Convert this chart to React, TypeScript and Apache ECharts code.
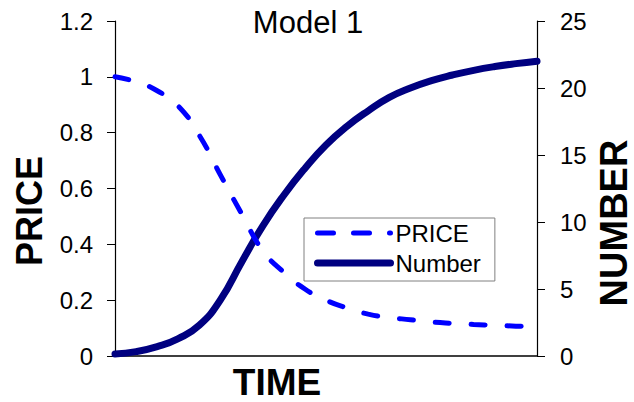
import React, { useEffect, useRef } from "react";
import * as echarts from "echarts";

const timePoints = [0, 5, 10, 15, 20, 25, 30, 35, 40, 45, 50, 55, 60, 65, 70, 75, 80, 85, 90, 95, 100];
const priceValues = [1.0, 0.982, 0.95, 0.895, 0.79, 0.648, 0.51, 0.378, 0.3, 0.24, 0.2, 0.172, 0.15, 0.138, 0.13, 0.122, 0.117, 0.113, 0.11, 0.107, 0.105];
const numberValues = [0.15, 0.33, 0.7, 1.3, 2.3, 4.2, 7.0, 9.7, 12.0, 14.0, 15.75, 17.15, 18.3, 19.3, 20.0, 20.55, 20.97, 21.32, 21.6, 21.82, 22.0];

const titleText = "Model 1";
const xName = "TIME";
const leftName = "PRICE";
const rightName = "NUMBER";

const FONT = "'Liberation Sans', Arial, Helvetica, sans-serif";

export default function App() {
  const ref = useRef<HTMLDivElement>(null);
  useEffect(() => {
    if (!ref.current) return;
    const chart = echarts.init(ref.current, undefined, { renderer: "svg" });
    const priceData = timePoints.map((t, i) => [t, priceValues[i]]);
    const numberData = timePoints.map((t, i) => [t, numberValues[i]]);
    chart.setOption({
      animation: false,
      backgroundColor: "#ffffff",
      textStyle: { fontFamily: FONT },
      grid: { left: 115, right: 97, top: 21, bottom: 46, containLabel: false },
      legend: {
        orient: "vertical",
        left: 304,
        top: 218,
        padding: [2, 14, 5, 10],
        itemWidth: 73,
        itemHeight: 14,
        itemGap: 4,
        borderColor: "#808080",
        borderWidth: 1,
        backgroundColor: "#ffffff",
        textStyle: { fontFamily: FONT, fontSize: 24, color: "#000", lineHeight: 26 },
        data: [
          { name: "PRICE", itemStyle: { opacity: 0 }, lineStyle: { width: 5, type: [16, 20], cap: "round", color: "#0000ff" } },
          { name: "Number", itemStyle: { opacity: 0 }, lineStyle: { width: 7, cap: "round", color: "#000080" } },
        ],
      },
      xAxis: {
        type: "value",
        min: 0,
        max: 100,
        axisLine: { show: true, lineStyle: { color: "#000", width: 1.5 } },
        axisTick: { show: false },
        axisLabel: { show: false },
        splitLine: { show: false },
      },
      yAxis: [
        {
          type: "value",
          min: 0,
          max: 1.2,
          interval: 0.2,
          position: "left",
          axisLine: { show: true, lineStyle: { color: "#000", width: 1.2 } },
          axisTick: { show: true, inside: false, length: 8, lineStyle: { color: "#000" } },
          axisLabel: { fontFamily: FONT, fontSize: 24, color: "#000", margin: 22 },
          splitLine: { show: false },
        },
        {
          type: "value",
          min: 0,
          max: 25,
          interval: 5,
          position: "right",
          axisLine: { show: true, lineStyle: { color: "#000", width: 1.2 } },
          axisTick: { show: true, inside: false, length: 8, lineStyle: { color: "#000" } },
          axisLabel: { fontFamily: FONT, fontSize: 24, color: "#000", margin: 23 },
          splitLine: { show: false },
        },
      ],
      series: [
        {
          name: "PRICE",
          type: "line",
          yAxisIndex: 0,
          data: priceData,
          smooth: 0.5,
          showSymbol: false,
          symbol: "none",
          lineStyle: { color: "#0000ff", width: 5, type: [14, 22], cap: "round" },
          itemStyle: { color: "#0000ff" },
          z: 3,
        },
        {
          name: "Number",
          type: "line",
          yAxisIndex: 1,
          data: numberData,
          smooth: 0.5,
          showSymbol: false,
          symbol: "none",
          lineStyle: { color: "#000080", width: 7, cap: "round" },
          itemStyle: { color: "#000080" },
          z: 2,
        },
      ],
      graphic: [
        {
          type: "text",
          x: 308,
          y: 22,
          style: { text: titleText, font: `31px ${FONT}`, fill: "#000", textAlign: "center", textVerticalAlign: "middle" },
        },
        {
          type: "text",
          x: 277,
          y: 382,
          style: { text: xName, font: `bold 37px ${FONT}`, lineHeight: 38, fill: "#000", textAlign: "center", textVerticalAlign: "middle" },
        },
        {
          type: "text",
          x: 29,
          y: 211,
          rotation: Math.PI / 2,
          style: { text: leftName, font: `bold 36px ${FONT}`, fill: "#000", textAlign: "center", textVerticalAlign: "middle" },
        },
        {
          type: "text",
          x: 614,
          y: 223,
          rotation: Math.PI / 2,
          style: { text: rightName, font: `bold 38px ${FONT}`, lineHeight: 32, fill: "#000", textAlign: "center", textVerticalAlign: "middle" },
        },
      ],
    });
    return () => chart.dispose();
  }, []);
  return <div ref={ref} style={{ width: 634, height: 402, position: "absolute", left: 0, top: 0 }} />;
}
